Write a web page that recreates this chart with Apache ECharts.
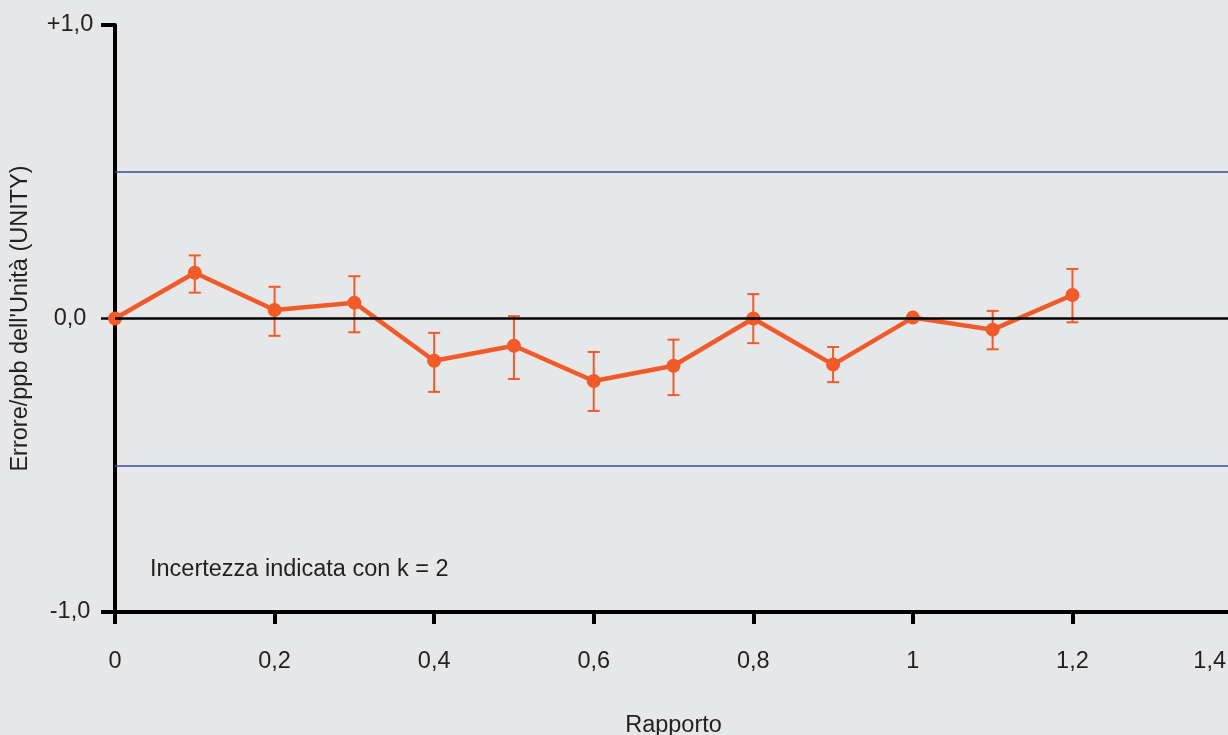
<!DOCTYPE html>
<html>
<head>
<meta charset="utf-8">
<script src="https://cdn.jsdelivr.net/npm/echarts@6/dist/echarts.min.js"></script>
<style>
html,body{margin:0;padding:0;background:#e6e7e8;}
#chart{width:1228px;height:735px;}
</style>
</head>
<body>
<div id="chart"></div>
<script>
// ---- data ----
const ratios   = [0, 0.1, 0.2, 0.3, 0.4, 0.5, 0.6, 0.7, 0.8, 0.9, 1.0, 1.1, 1.2];
const errors   = [0, 0.156, 0.029, 0.054, -0.144, -0.093, -0.213, -0.161, 0.0, -0.157, 0.003, -0.038, 0.080];
const errUpper = [null, 0.215, 0.108, 0.144, -0.049, 0.008, -0.114, -0.072, 0.083, -0.097, null, 0.026, 0.169];
const errLower = [null, 0.088, -0.059, -0.047, -0.250, -0.206, -0.315, -0.261, -0.084, -0.217, null, -0.105, -0.013];
const limitLines = [0.5, -0.5];
const zeroLine = 0;
const yTickLabels = {'1': '+1,0', '0': '0,0', '-1': '-1,0'};
const xAxisTitle = 'Rapporto';
const yAxisTitle = "Errore/ppb dell'Unità (UNITY)";
const note = 'Incertezza indicata con k = 2';

const FONT = 'Liberation Sans, Arial, Helvetica, sans-serif';
const FS = 23.5;
const TXT = '#231f20';
const ORANGE = '#f15a29';

const lineData = ratios.map((x, i) => [x, errors[i]]);
const barData = [];
ratios.forEach((x, i) => {
  if (errUpper[i] !== null && errLower[i] !== null) barData.push([x, errLower[i], errUpper[i]]);
});

function fmtX(v) {
  const r = Number(v.toFixed(1));
  return String(r).replace('.', ',');
}

const chart = echarts.init(document.getElementById('chart'), null, {renderer: 'canvas'});
chart.setOption({
  backgroundColor: '#e6e7e8',
  animation: false,
  textStyle: {fontFamily: FONT, color: TXT},
  grid: {left: 115, top: 25, right: -4, bottom: 123, containLabel: false, outerBoundsMode: 'none'},
  xAxis: {
    type: 'value', min: 0, max: 1.4, interval: 0.2,
    name: xAxisTitle, nameLocation: 'middle', nameGap: 102,
    nameTextStyle: {fontSize: FS, color: TXT, fontFamily: FONT},
    axisLine: {onZero: false, lineStyle: {color: '#000', width: 4}},
    axisTick: {show: true, length: 12, lineStyle: {color: '#000', width: 4}},
    splitLine: {show: false},
    axisLabel: {
      fontSize: FS, color: TXT, fontFamily: FONT, margin: 38,
      alignMaxLabel: 'right',
      formatter: v => Math.abs(v - 1.4) < 1e-6 ? '{m|' + fmtX(v) + '}' : fmtX(v),
      rich: {m: {fontSize: FS, color: TXT, fontFamily: FONT, padding: [0, 6, 0, 0]}}
    }
  },
  yAxis: [{
    type: 'value', min: -1, max: 1, interval: 1,
    name: yAxisTitle, nameLocation: 'middle', nameGap: 82, nameRotate: 90,
    nameTextStyle: {fontSize: FS, color: TXT, fontFamily: FONT},
    axisLine: {lineStyle: {color: '#000', width: 4, cap: 'round'}},
    axisTick: {show: true, length: 14, customValues: [-1, 1], lineStyle: {color: '#000', width: 4}},
    splitLine: {show: false},
    axisLabel: {
      fontSize: FS, color: TXT, fontFamily: FONT, margin: 45, align: 'center',
      formatter: v => yTickLabels[String(Math.round(v))] || ''
    }
  }, {
    type: 'value', min: -1, max: 1, interval: 1, position: 'left',
    axisLine: {show: false},
    axisTick: {show: true, length: 14, customValues: [0], lineStyle: {color: '#000', width: 2.5}},
    axisLabel: {show: false},
    splitLine: {show: false}
  }],
  graphic: [{
    type: 'text', left: 150, top: 558, silent: true,
    style: {text: note, font: FS + 'px ' + FONT, fill: TXT}
  }],
  series: [{
    type: 'line', data: [], silent: true,
    markLine: {
      silent: true, symbol: 'none', label: {show: false}, animation: false,
      data: [
        ...limitLines.map(v => ({yAxis: v, lineStyle: {color: '#3b4a94', width: 1.5, type: 'solid'}})),
        {yAxis: zeroLine, lineStyle: {color: '#000', width: 2.5, type: 'solid'}}
      ]
    }
  }, {
    type: 'custom', data: barData, z: 3, silent: true,
    renderItem: function (params, api) {
      const x = api.value(0);
      const lo = api.coord([x, api.value(1)]);
      const hi = api.coord([x, api.value(2)]);
      const w = 6;
      const st = {stroke: ORANGE, lineWidth: 2};
      return {type: 'group', children: [
        {type: 'line', shape: {x1: hi[0], y1: hi[1], x2: lo[0], y2: lo[1]}, style: st},
        {type: 'line', shape: {x1: hi[0] - w, y1: hi[1], x2: hi[0] + w, y2: hi[1]}, style: st},
        {type: 'line', shape: {x1: lo[0] - w, y1: lo[1], x2: lo[0] + w, y2: lo[1]}, style: st}
      ]};
    }
  }, {
    type: 'line', data: lineData, z: 4, silent: true,
    symbol: 'circle', symbolSize: 14, showSymbol: true,
    lineStyle: {color: ORANGE, width: 4.5},
    itemStyle: {color: ORANGE}
  }]
});
</script>
</body>
</html>
